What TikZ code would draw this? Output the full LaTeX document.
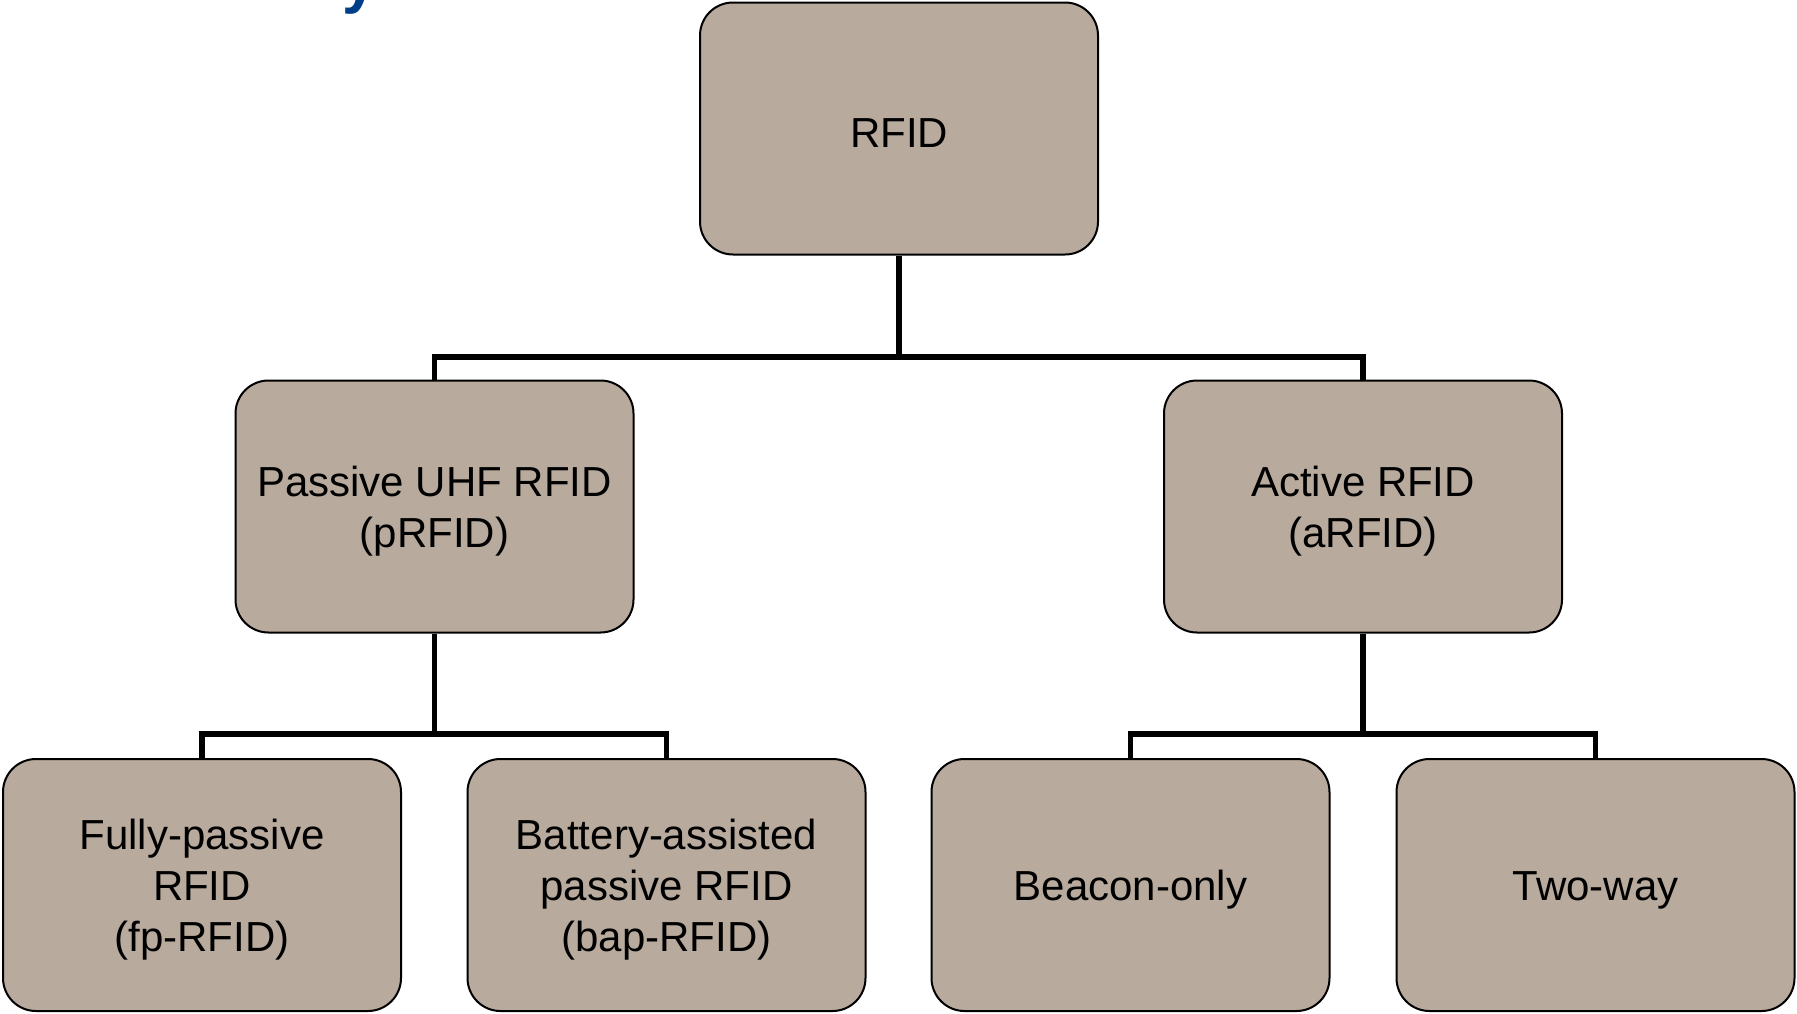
\documentclass[tikz,border=0pt]{standalone}
\usepackage{fontspec}
\setmainfont{Liberation Sans}
\definecolor{boxfill}{RGB}{184,170,157}
\definecolor{titleblue}{RGB}{0,62,135}
\tikzset{
  tbox/.style={draw=black, line width=2pt, fill=boxfill, rounded corners=33pt,
    minimum width=398pt, minimum height=252pt, inner sep=0pt,
    label={[boxtext]center:#1}},
  boxtext/.style={align=center, yshift=-5pt, inner sep=0pt,
    font=\fontsize{42}{51}\selectfont},
  conn/.style={draw=black, line width=5.5pt}
}
\begin{document}
\begin{tikzpicture}[x=1pt, y=-1pt]
\useasboundingbox (0,0) rectangle (1797,1013);
\node[anchor=base west, inner sep=0pt, text=titleblue, font=\bfseries\fontsize{62}{62}\selectfont] (title) at (342,1.5) {y};

\node[tbox={RFID}] (root) at (899,128.5) {};
\node[tbox={Passive UHF RFID\\(pRFID)}] (passive) at (434.5,506.5) {};
\node[tbox={Active RFID\\(aRFID)}] (active) at (1363,506.5) {};
\node[tbox={Fully-passive\\RFID\\(fp-RFID)}] (fp) at (202,885) {};
\node[tbox={Battery-assisted\\passive RFID\\(bap-RFID)}] (bap) at (666.5,885) {};
\node[tbox={Beacon-only}] (beacon) at (1130.5,885) {};
\node[tbox={Two-way}] (twoway) at (1595.5,885) {};

\coordinate (j1) at (899,357);
\coordinate (j2) at (434.5,734);
\coordinate (j3) at (1363,734);

\draw[conn] (root.south) -- (j1);
\draw[conn] (passive.north) |- (j1) -| (active.north);
\draw[conn] (passive.south) -- (j2);
\draw[conn] (fp.north) |- (j2) -| (bap.north);
\draw[conn] (active.south) -- (j3);
\draw[conn] (beacon.north) |- (j3) -| (twoway.north);
\end{tikzpicture}
\end{document}
